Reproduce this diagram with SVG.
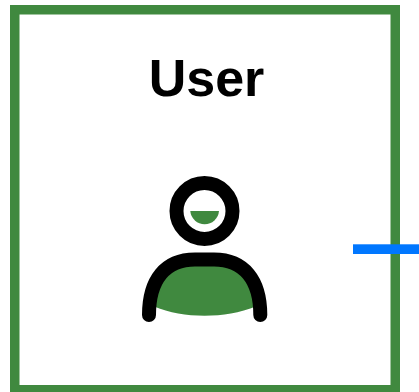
<svg xmlns="http://www.w3.org/2000/svg" width="419" height="392" viewBox="0 0 419 392">
<style>
.ink{fill:none;stroke:#000;stroke-width:14;stroke-linecap:round}
.leaf{fill:#40893f}
</style>
<rect width="419" height="392" fill="#fff"/>
<g id="user">
<rect x="14.75" y="9.75" width="380.5" height="380" fill="#fff" stroke="#40893f" stroke-width="9.5"/>
<text x="206.5" y="96" text-anchor="middle" font-family="'Liberation Sans',Arial,sans-serif" font-weight="700" font-size="52" fill="#000">User</text>
<path class="leaf" d="M153 306C170 313 186 315.7 204.5 315.7S239 313 257 306L260 290C255 270 240 259.5 214 259.5H195C169 259.5 155 270 150 290Z"/>
<path class="leaf" d="M190.3 211H219A14.4 14.4 0 0 1 190.3 211Z"/>
<circle class="ink" cx="204.5" cy="211" r="28"/>
<path class="ink" d="M149 315C149 280 165 259.5 195 259.5H214C244 259.5 260.3 280 260.3 315"/>
</g>
<g id="connectors">
<rect x="353" y="244.3" width="66" height="9.7" fill="#0077ff"/>
</g>
</svg>
